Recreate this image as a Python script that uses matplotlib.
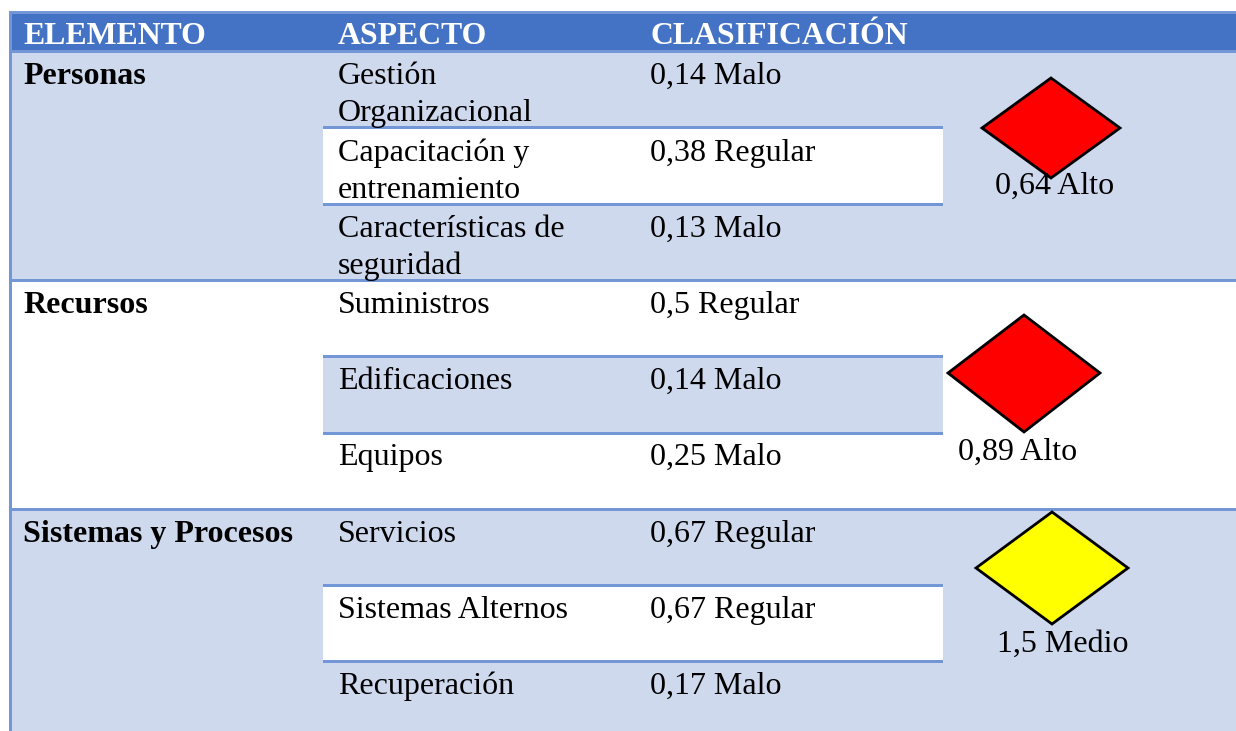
import matplotlib
matplotlib.use('Agg')
import matplotlib.pyplot as plt
from matplotlib.patches import Polygon, Rectangle

# Table content
headers = ['ELEMENTO', 'ASPECTO', 'CLASIFICACIÓN']
elementos = ['Personas', 'Recursos', 'Sistemas y Procesos']
aspectos = ['Gestión\nOrganizacional', 'Capacitación y\nentrenamiento',
            'Características de\nseguridad', 'Suministros', 'Edificaciones',
            'Equipos', 'Servicios', 'Sistemas Alternos', 'Recuperación']
clasificacion = ['0,14 Malo', '0,38 Regular', '0,13 Malo', '0,5 Regular',
                 '0,14 Malo', '0,25 Malo', '0,67 Regular', '0,67 Regular',
                 '0,17 Malo']
totales = ['0,64 Alto', '0,89 Alto', '1,5 Medio']
total_colors = ['#FF0000', '#FF0000', '#FFFF00']

# Colors
C_HEAD = '#4472C4'
C_LINE = '#7396D6'
C_FILL = '#CFD9EE'

# Layout in image pixels
W, H = 1236, 731
X_LEFT, X_COL1, X_COL2, X_COL3 = 9, 23, 338, 650
X_SUB0, X_SUB1 = 323, 943
section_tops = [50, 279, 508]
row_lines = [126, 203, 279, 355, 432, 508, 584, 660]
row_base = [84, 161, 237, 313, 389, 465, 542, 618, 694]
LINE_GAP = 37
FS = 23.05

plt.rcParams['font.family'] = ['Liberation Serif', 'DejaVu Serif']

fig = plt.figure(figsize=(W / 100, H / 100), dpi=100)
ax = fig.add_axes([0, 0, 1, 1])
ax.set_xlim(0, W)
ax.set_ylim(H, 0)
ax.axis('off')


def band(x0, x1, y0, y1, color, z=1):
    ax.add_patch(Rectangle((x0, y0), x1 - x0, y1 - y0, facecolor=color,
                           edgecolor='none', zorder=z))


# Section backgrounds: 1st and 3rd tinted, 2nd white
band(X_LEFT, W, section_tops[0], section_tops[1], C_FILL)
band(X_LEFT, W, section_tops[2], H, C_FILL)
# Alternating rows inside each section
band(X_SUB0, X_SUB1, 126, 206, 'white', 2)
band(X_SUB0, X_SUB1, 355, 435, C_FILL, 2)
band(X_SUB0, X_SUB1, 584, 663, 'white', 2)

# Header
band(X_LEFT, W, 11, 53, C_LINE, 3)
band(12, W, 14, 50, C_HEAD, 4)
for x, label in zip([X_COL1, X_COL2, X_COL3], headers):
    ax.text(x, 44, label, color='white', fontsize=22.9, fontweight='bold',
            va='baseline', ha='left', zorder=6)

# Border and rules
band(X_LEFT, 12, 11, H, C_LINE, 3)
for y in row_lines:
    if y in section_tops:
        band(12, W, y, y + 3, C_LINE, 3)
    else:
        band(X_SUB0, X_SUB1, y, y + 3, C_LINE, 3)

# Text cells
for y, label in zip([row_base[0], row_base[3], row_base[6]], elementos):
    ax.text(X_COL1, y, label, fontsize=FS, fontweight='bold', color='black',
            va='baseline', ha='left', zorder=6)
for y, asp, cla in zip(row_base, aspectos, clasificacion):
    for i, part in enumerate(asp.split('\n')):
        ax.text(X_COL2, y + i * LINE_GAP, part, fontsize=FS, color='black',
                va='baseline', ha='left', zorder=6)
    ax.text(X_COL3, y, cla, fontsize=FS, color='black', va='baseline',
            ha='left', zorder=6)

# Diamonds: left, right, top, bottom, and label position
diamonds = [(982, 1120, 78, 178, 128, 995, 194),
            (948, 1100, 315, 432, 373, 958, 460),
            (976, 1128, 512, 624, 568, 997, 652)]
for (x0, x1, y0, y1, ym, tx, ty), color, label in zip(diamonds, total_colors, totales):
    xm = (x0 + x1) / 2
    ax.add_patch(Polygon([(x0, ym), (xm, y0), (x1, ym), (xm, y1)], closed=True,
                         facecolor=color, edgecolor='black', linewidth=2,
                         joinstyle='miter', zorder=5))
    ax.text(tx, ty, label, fontsize=FS, color='black', va='baseline',
            ha='left', zorder=6)

fig.savefig('out.png', dpi=100)
